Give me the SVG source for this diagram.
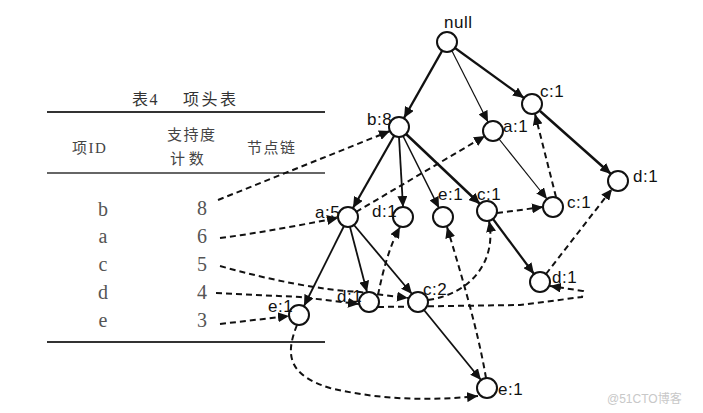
<svg xmlns="http://www.w3.org/2000/svg" width="703" height="413" viewBox="0 0 703 413">
<style>
.node circle{fill:#fff;stroke:#111;stroke-width:2}
.lbl{font-family:"Liberation Sans","DejaVu Sans",sans-serif;font-size:17px;fill:#111;letter-spacing:0.5px}
.tb{font-family:"Liberation Serif","Noto Sans CJK SC",serif;fill:#555}
.cjk{font-family:"Liberation Serif","Noto Sans CJK SC",serif;font-size:15px;fill:#444;letter-spacing:1.5px}
.row{font-size:20px;text-anchor:middle}
.rule{stroke:#333}
.e{fill:none;stroke:#111;marker-end:url(#ah)}
.d{fill:none;stroke:#111;stroke-width:2;stroke-dasharray:6 4;marker-end:url(#ah)}
</style>
<defs>
<marker id="ah" markerUnits="userSpaceOnUse" markerWidth="12" markerHeight="10" refX="11" refY="5" orient="auto">
<path d="M0,0 L11,5 L0,10 Z" fill="#111"/>
</marker>
</defs>
<rect width="703" height="413" fill="#fff"/>
<g id="table">
<text class="cjk" x="132" y="105" style="font-size:16px;fill:#333">表4</text>
<text class="cjk" x="183" y="105" style="font-size:16px;fill:#333;letter-spacing:2.5px">项头表</text>
<line class="rule" x1="47" y1="112" x2="325" y2="112" stroke-width="2.2"/>
<text class="cjk" x="72" y="153">项ID</text>
<text class="cjk" x="167" y="140">支持度</text>
<text class="cjk" x="170" y="164" style="letter-spacing:0">计 数</text>
<text class="cjk" x="247" y="153">节点链</text>
<line class="rule" x1="47" y1="173" x2="325" y2="173" stroke-width="1.4"/>
<text class="tb row" x="103" y="216">b</text><text class="tb row" x="202" y="215">8</text>
<text class="tb row" x="103" y="243">a</text><text class="tb row" x="202" y="243">6</text>
<text class="tb row" x="103" y="271">c</text><text class="tb row" x="202" y="271">5</text>
<text class="tb row" x="103" y="299">d</text><text class="tb row" x="202" y="299">4</text>
<text class="tb row" x="103" y="327">e</text><text class="tb row" x="202" y="327">3</text>
<line class="rule" x1="47" y1="342" x2="325" y2="342" stroke-width="2.2"/>
</g>
<g id="connectors">
<line class="e" x1="442" y1="51" x2="404" y2="118" stroke-width="2.4"/>
<line class="e" x1="452" y1="51" x2="488" y2="122" stroke-width="1.2"/>
<line class="e" x1="455" y1="48" x2="524" y2="98" stroke-width="2.2"/>
<line class="e" x1="394" y1="136" x2="353" y2="208" stroke-width="2.2"/>
<line class="e" x1="399" y1="137" x2="403" y2="207" stroke-width="1.8"/>
<line class="e" x1="403" y1="136" x2="439" y2="208" stroke-width="1.5"/>
<line class="e" x1="406" y1="134" x2="480" y2="204" stroke-width="2.5"/>
<line class="e" x1="499" y1="139" x2="547" y2="199" stroke-width="1.2"/>
<line class="e" x1="540" y1="111" x2="611" y2="174" stroke-width="2.5"/>
<line class="e" x1="493" y1="219" x2="534" y2="274" stroke-width="2.2"/>
<line class="e" x1="344" y1="226" x2="304" y2="306" stroke-width="1.8"/>
<line class="e" x1="350" y1="227" x2="367" y2="292" stroke-width="1.8"/>
<line class="e" x1="354" y1="225" x2="412" y2="294" stroke-width="1.8"/>
<line class="e" x1="424" y1="310" x2="481" y2="380" stroke-width="1.8"/>
<path class="d" d="M218,200 L390,131"/>
<path class="d" d="M220,238 C260,233 300,225 338,218"/>
<path class="d" d="M356,212 L485,136"/>
<path class="d" d="M220,266 C270,280 320,290 360,292 L408,298"/>
<path class="d" d="M428,300 C470,294 497,262 489,221"/>
<path class="d" d="M497,213 L543,207"/>
<path class="d" d="M556,197 L535,114"/>
<path class="d" d="M216,293 L300,297 L359,304"/>
<path class="d" d="M378,295 C383,270 390,245 400,227"/>
<path class="d" d="M378,307 L520,305 L582,297 L583,291 L550,286"/>
<path class="d" d="M546,274 L612,189"/>
<path class="d" d="M297,325 C285,355 288,375 330,388 C380,400 430,401 478,396"/>
<path class="d" d="M486,378 C478,330 460,270 447,227"/>
<path class="d" d="M220,324 L289,316"/>
</g>
<g id="n-null" class="node"><circle cx="447" cy="42" r="10"/><text class="lbl" x="444" y="28">null</text></g>
<g id="n-b8" class="node"><circle cx="399" cy="127" r="10"/><text class="lbl" x="367" y="125">b:8</text></g>
<g id="n-a1" class="node"><circle cx="493" cy="131" r="10"/><text class="lbl" x="503" y="132">a:1</text></g>
<g id="n-c1-top" class="node"><circle cx="532" cy="104" r="10"/><text class="lbl" x="540" y="97">c:1</text></g>
<g id="n-d1-right" class="node"><circle cx="618" cy="181" r="10"/><text class="lbl" x="633" y="182">d:1</text></g>
<g id="n-c1-mid" class="node"><circle cx="553" cy="207" r="10"/><text class="lbl" x="567" y="208">c:1</text></g>
<g id="n-c1-b" class="node"><circle cx="487" cy="211" r="10"/><text class="lbl" x="477" y="200">c:1</text></g>
<g id="n-e1-b" class="node"><circle cx="443" cy="217" r="10"/><text class="lbl" x="438" y="200">e:1</text></g>
<g id="n-d1-b" class="node"><circle cx="403" cy="217" r="10"/><text class="lbl" x="372" y="217">d:1</text></g>
<g id="n-a5" class="node"><circle cx="348" cy="217" r="10"/><text class="lbl" x="315" y="218">a:5</text></g>
<g id="n-d1-c" class="node"><circle cx="540" cy="282" r="10"/><text class="lbl" x="552" y="283">d:1</text></g>
<g id="n-d1-a" class="node"><circle cx="369" cy="302" r="10"/><text class="lbl" x="337" y="302">d:1</text></g>
<g id="n-c2" class="node"><circle cx="418" cy="302" r="10"/><text class="lbl" x="423" y="295">c:2</text></g>
<g id="n-e1-a" class="node"><circle cx="299" cy="315" r="10"/><text class="lbl" x="268" y="312">e:1</text></g>
<g id="n-e1-e" class="node"><circle cx="487" cy="388" r="10"/><text class="lbl" x="498" y="395">e:1</text></g>
<text x="607" y="403" style="font-family:'Liberation Sans','Noto Sans CJK SC',sans-serif;font-size:12px;fill:#c8c8c8">@51CTO博客</text>
</svg>
